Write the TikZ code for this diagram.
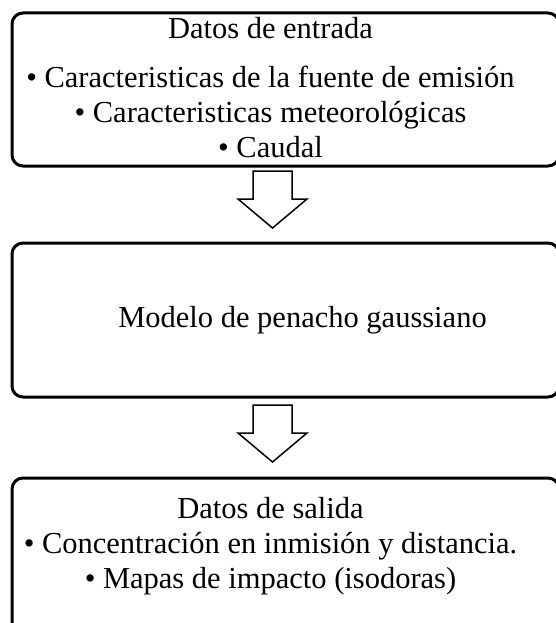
\documentclass[tikz,border=0pt]{standalone}
\usepackage{fontspec}
\setmainfont{Liberation Serif}
\usetikzlibrary{calc,positioning}

\begin{document}
\begin{tikzpicture}
    [x=1pt,y=-1pt,
     caja/.style={draw,line width=3pt,rounded corners=11pt,anchor=north west,
                  minimum width=547pt,outer sep=0,inner sep=0},
     texto/.style={align=center,font=\fontsize{30.5}{35}\selectfont,inner sep=0},
     flecha/.style={draw,line width=1.5pt,fill=white,line join=miter}]
    \useasboundingbox (0,0) rectangle (556,623);

    \node[caja,minimum height=153pt] (entrada) at (12,13) {};
    \node[caja,minimum height=154pt] (modelo) at (12,243) {};
    \node[caja,minimum height=165pt] (salida) at (12,478) {};

    \node[texto,anchor=north] (entradaTxt) at ($(entrada.north)+(-15,4)$)
        {Datos de entrada\\[14pt]
         • Caracteristicas de la fuente de emisión\\
         • Caracteristicas meteorológicas\\
         • Caudal};
    \node[texto] (modeloTxt) at ($(modelo.center)+(17,0)$)
        {Modelo de penacho gaussiano};
    \node[texto,anchor=north] (salidaTxt) at ($(salida.north)+(-15,19)$)
        {Datos de salida\\
         • Concentración en inmisión y distancia.\\
         • Mapas de impacto (isodoras)};

    \coordinate (f1) at ($(entrada.south)+(-13,5)$);
    \coordinate (f2) at ($(modelo.south)+(-13,8)$);
    \draw[flecha] (f1) -- ++(19.5,0) -- ++(0,28) -- ++(15,0) -- ++(-34.5,29)
        -- ++(-34.5,-29) -- ++(15,0) -- ++(0,-28) -- cycle;
    \draw[flecha] (f2) -- ++(19.5,0) -- ++(0,28) -- ++(15,0) -- ++(-34.5,29)
        -- ++(-34.5,-29) -- ++(15,0) -- ++(0,-28) -- cycle;
\end{tikzpicture}
\end{document}
